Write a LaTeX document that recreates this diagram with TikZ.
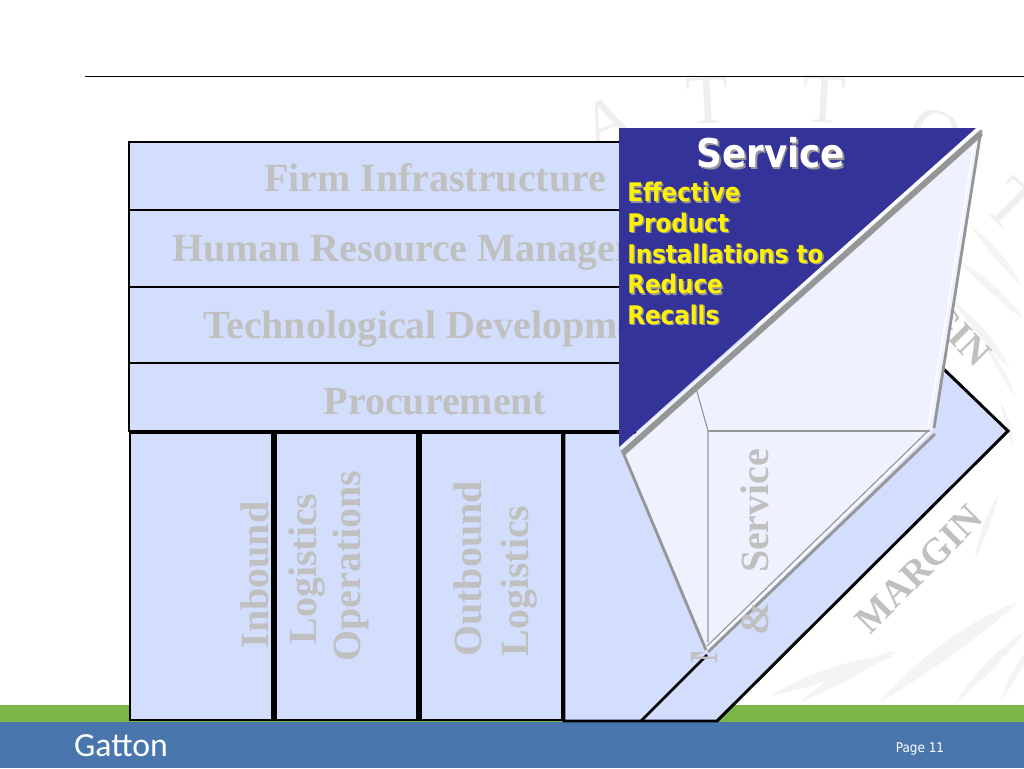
\documentclass[tikz,border=0pt]{standalone}
\usepackage{fontspec}
\setmainfont{Liberation Serif}
\newfontfamily\tahfont{DejaVu Sans Condensed}
\newfontfamily\carfont{Carlito}
\definecolor{boxblue}{HTML}{D2DEFC}
\definecolor{flapblue}{HTML}{EEF2FF}
\definecolor{deepblue}{HTML}{333399}
\definecolor{bandblue}{HTML}{4A76AE}
\definecolor{bandgreen}{HTML}{7AB648}
\definecolor{labelgray}{HTML}{C0C0C0}
\definecolor{edgegray}{HTML}{969696}
\definecolor{markgray}{HTML}{EFEFEF}
\begin{document}
\begin{tikzpicture}[
    x=0.25mm, y=-0.25mm,
    rowbox/.style={draw=black, fill=boxblue, line width=1.9pt},
    colbox/.style={draw=black, fill=boxblue, line width=2.1pt},
    blocklabel/.style={
        text=labelgray, inner sep=0pt, font=\fontsize{28.4}{28.4}\selectfont\bfseries
    },
    vertlabel/.style={blocklabel, rotate=90},
    marginlabel/.style={
        text=labelgray, inner sep=0pt, font=\fontsize{27}{27}\selectfont\bfseries
    },
    marktext/.style={text=markgray, inner sep=0pt, font=\fontsize{50}{50}\selectfont},
    leaf/.style={fill=markgray!70!white},
    svctitle/.style={inner sep=0pt, font=\tahfont\fontsize{28.2}{28.2}\selectfont\bfseries},
    svcitems/.style={
        inner sep=0pt, align=left, anchor=north west,
        font=\tahfont\fontsize{18.2}{21.8}\selectfont\bfseries
    },
    flapedge/.style={draw=edgegray, line width=2pt},
    flapthin/.style={draw=edgegray, line width=0.8pt},
    flaplight/.style={draw=white, line width=1pt}
]
\useasboundingbox (0,0) rectangle (1024,768);

% --- Bands ---
\fill[bandgreen] (0,705) rectangle (1024,723);
\fill[bandblue] (0,722) rectangle (1024,768);

% --- Watermark ---
\node[marktext, rotate=22] (markA) at (607,122) {A};
\node[marktext, rotate=3] (markTa) at (708,100) {T};
\node[marktext, rotate=-3] (markTb) at (824,100) {T};
\node[marktext, rotate=-20] (markO) at (935,135) {O};
\node[marktext, rotate=-45] (markN) at (1012,205) {T};
\foreach \x/\y/\a/\l in {
    970/225/-50/80, 960/262/-42/85, 952/300/-50/90, 985/345/-60/60,
    1000/400/-75/50, 880/702/36/170, 955/704/46/100, 1000/702/60/70,
    770/696/18/130, 610/690/10/170, 800/702/28/110, 975/560/70/70}
    \fill[leaf, rotate around={\a:(\x,\y)}]
        (\x,\y) .. controls (\x+0.4*\l,\y-0.1*\l) and (\x+0.8*\l,\y-0.06*\l) .. (\x+\l,\y)
                .. controls (\x+0.7*\l,\y+0.04*\l) and (\x+0.3*\l,\y+0.03*\l) .. (\x,\y);

% --- Top rule ---
\draw[black, line width=0.7pt] (85,76) -- (1024,76);

% --- Margin wedge ---
\fill[boxblue] (564,433) -- (564,721) -- (717,721) -- (1008,431) -- (900,327) -- (640,327) -- cycle;
\draw[colbox, fill=none] (564,433) -- (564,721) -- (717,721) -- (1008,431) -- (900,327);
\draw[black, line width=1.9pt] (641,721) -- (707,655);
\draw[black, line width=1.9pt] (564,433) -- (640,433);
\node[marginlabel, rotate=-45, anchor=east] (marginup) at (985,360) {MARGIN};
\node[marginlabel, rotate=45] (margindown) at (919,569) {MARGIN};

% --- Support rows ---
\draw[rowbox] (129,142) rectangle (630,210);
\draw[rowbox] (129,210) rectangle (630,287);
\draw[rowbox] (129,287) rectangle (630,363);
\draw[rowbox] (129,363) rectangle (630,431);
\node[blocklabel] (firm) at (435,178) {Firm Infrastructure};
\node[blocklabel, anchor=west] (human) at (172,253) {Human Resource Management};
\node[blocklabel, anchor=west] (tech) at (203,329) {Technological Development};
\node[blocklabel] (proc) at (435,402) {Procurement};

% --- Primary columns ---
\draw[colbox] (130,433) rectangle (272.5,720);
\draw[colbox] (275.5,433) rectangle (417.5,720);
\draw[colbox] (420.5,433) rectangle (562.5,720);
\node[vertlabel] (inbound) at (255,575) {Inbound};
\node[vertlabel] (logisticsa) at (307.5,569) {Logistics};
\node[vertlabel] (operations) at (350.5,566) {Operations};
\node[vertlabel] (outbound) at (468,569) {Outbound};
\node[vertlabel] (logisticsb) at (519.5,581) {Logistics};
\begin{scope}
    \clip (690,652) rectangle (725,668);
    \node[vertlabel, anchor=west] (marketing) at (708,664) {Marketing};
\end{scope}

% --- Flap ---
\fill[flapblue] (620,447) -- (706,652) -- (932,432) -- (980,130) -- cycle;
\draw[flapthin] (696,388) -- (708,431) -- (708,642);
\draw[flapthin] (708,431) -- (930,431);
\draw[flapedge] (622,450) -- (706,650);
\draw[flapedge] (981,130) -- (934,428);
\draw[flaplight] (976,133) -- (928,428);
\draw[flapedge] (935,434) -- (708,652);
\draw[flaplight] (930,432) -- (708,648);
\draw[flapthin] (929,430) -- (707,646);
\fill[deepblue] (619,128) -- (976,128) -- (619,447) -- cycle;
\draw[edgegray, line width=4.2pt] (623,453) -- (981,133);

\node[vertlabel, anchor=west] (service) at (755,636) {\&\hspace{21pt}Service};

% --- Service text ---
\node[svctitle, text=edgegray] (titleshadow) at (772.5,154.5) {Service};
\node[svctitle, text=white] (title) at (771,153) {Service};
\node[svcitems, text=edgegray] (itemshadow) at (628.5,183.5) {Effective\\Product\\Installations to\\Reduce\\Recalls};
\node[svcitems, text=yellow] (items) at (627,182) {Effective\\Product\\Installations to\\Reduce\\Recalls};

% --- Footer ---
\node[text=white, inner sep=0pt, font=\carfont\fontsize{24}{24}\selectfont] (gatton) at (121,746) {Gatton};
\node[text=white, inner sep=0pt, font=\tahfont\fontsize{9.5}{9.5}\selectfont] (page) at (920,749) {Page 11};

\end{tikzpicture}
\end{document}
